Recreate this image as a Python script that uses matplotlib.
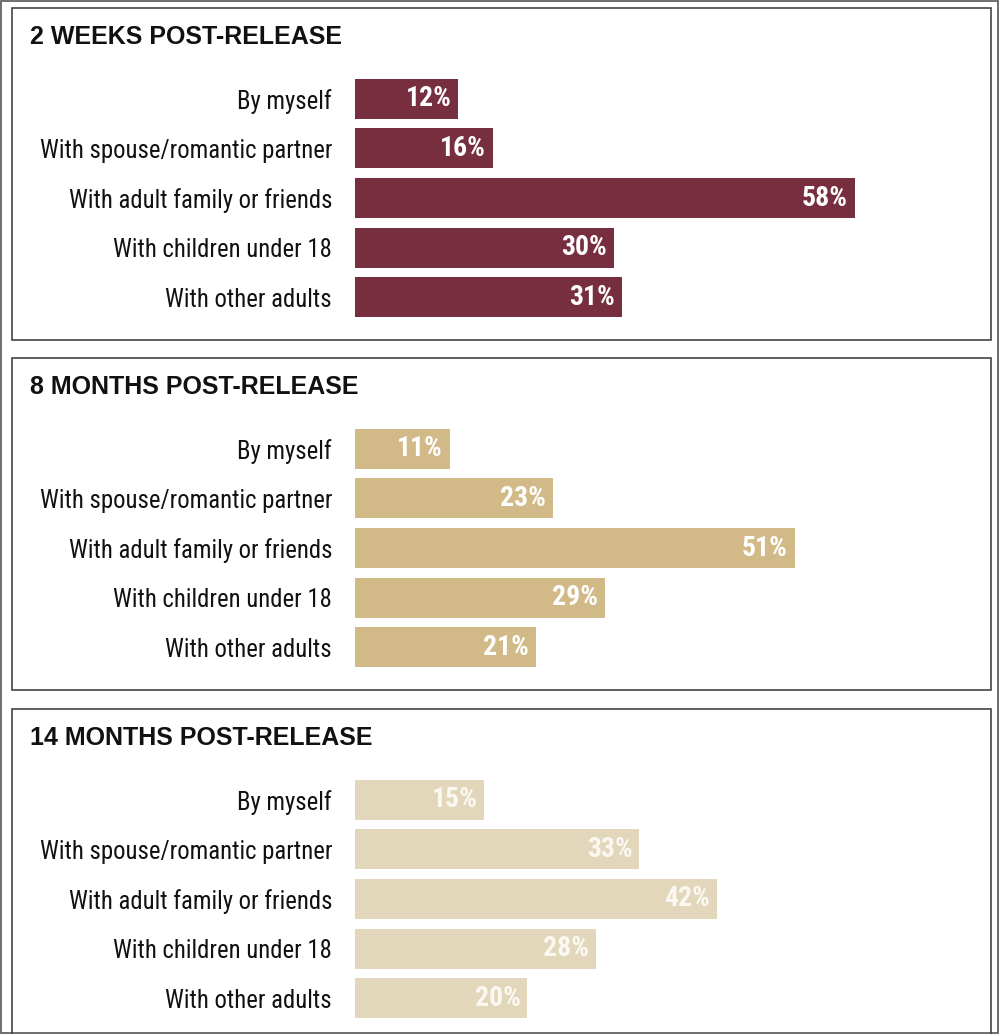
#!/usr/bin/env python3
import matplotlib
matplotlib.use("Agg")
import matplotlib.pyplot as plt
from matplotlib.font_manager import FontProperties, fontManager
from matplotlib.patches import Rectangle

categories = [
    "By myself",
    "With spouse/romantic partner",
    "With adult family or friends",
    "With children under 18",
    "With other adults",
]
panel_titles = ["2 WEEKS POST-RELEASE", "8 MONTHS POST-RELEASE", "14 MONTHS POST-RELEASE"]
weeks_2 = [12, 16, 58, 30, 31]
months_8 = [11, 23, 51, 29, 21]
months_14 = [15, 33, 42, 28, 20]
panel_values = [weeks_2, months_8, months_14]
panel_colors = ["#772F40", "#D1BA87", "#E2D7BB"]
text_colors = ["white", "white", "#FBF8F2"]


def find_narrow(bold):
    # look for a condensed face among the installed fonts
    wanted_w = 700 if bold else 400
    prefs = ["Liberation Sans Narrow", "Arial Narrow", "Roboto Condensed",
             "Open Sans Condensed", "Noto Sans", "DejaVu Sans", "Open Sans", "Roboto"]
    for name in prefs:
        for f in fontManager.ttflist:
            if f.name != name or f.style != "normal":
                continue
            if str(f.stretch) not in ("condensed", "semi-condensed", "extra-condensed") \
                    and "Narrow" not in name and "Condensed" not in name:
                continue
            w = f.weight if isinstance(f.weight, int) else (700 if "bold" in str(f.weight) else 400)
            if abs(w - wanted_w) < 100:
                return FontProperties(fname=f.fname)
    return FontProperties(family="Liberation Sans", weight="bold" if bold else "normal")


label_fp = find_narrow(False)
value_fp = find_narrow(True)
plt.rcParams["font.family"] = ["Liberation Sans", "DejaVu Sans"]

W, H = 999, 1034
fig = plt.figure(figsize=(W / 100, H / 100), dpi=100)
renderer = fig.canvas.get_renderer()


def fit_size(text, fp, target_px, max_size):
    t = fig.text(0, 0, text, fontproperties=fp, fontsize=20)
    w = t.get_window_extent(renderer).width
    t.remove()
    return min(max_size, 20 * target_px / w)


label_size = fit_size("With spouse/romantic partner", label_fp, 292, 20)
value_size = fit_size("58%", value_fp, 51, 20)


def fx(px):
    return px / W


def fy(py):
    return 1 - py / H


# outer frame
fig.patches.append(Rectangle((fx(1), fy(1033)), fx(997), 1032 / H, transform=fig.transFigure,
                             fill=False, edgecolor="#555555", linewidth=1.2))

panel_tops = [8, 358, 709]
panel_bottoms = [340, 690, 1040]
px_per_pct = 8.62
bar_left = 355
xmax = 70

for i, (title, vals) in enumerate(zip(panel_titles, panel_values)):
    top = panel_tops[i]
    bottom = panel_bottoms[i]
    fig.patches.append(Rectangle((fx(12), fy(bottom)), fx(979), (bottom - top) / H,
                                 transform=fig.transFigure, fill=False,
                                 edgecolor="#444444", linewidth=1.2, clip_on=False))
    fig.text(fx(30), fy(top + 29), title, fontsize=18, fontweight="bold",
             ha="left", va="center", color="#111111")

    off = top - 8
    ax_top = 74 + off
    ax_h = 248
    ax = fig.add_axes([fx(bar_left), fy(ax_top + ax_h), fx(px_per_pct * xmax), ax_h / H])
    ax.set_xlim(0, xmax)
    ax.set_ylim(4.5, -0.5)
    ypos = list(range(len(categories)))
    ax.barh(ypos, vals, height=0.81, color=panel_colors[i], edgecolor="none")
    for y, v in zip(ypos, vals):
        ax.text(v - 0.8, y, f"{v}%", ha="right", va="center", fontproperties=value_fp,
                fontsize=value_size, color=text_colors[i])
    ax.set_yticks(ypos)
    ax.set_yticklabels(categories)
    for lab in ax.get_yticklabels():
        lab.set_fontproperties(label_fp)
        lab.set_fontsize(label_size)
        lab.set_color("#111111")
    ax.tick_params(axis="y", length=0, pad=16.5)
    ax.set_xticks([])
    for s in ax.spines.values():
        s.set_visible(False)
    ax.patch.set_alpha(0)

fig.savefig("out.png", dpi=100)
